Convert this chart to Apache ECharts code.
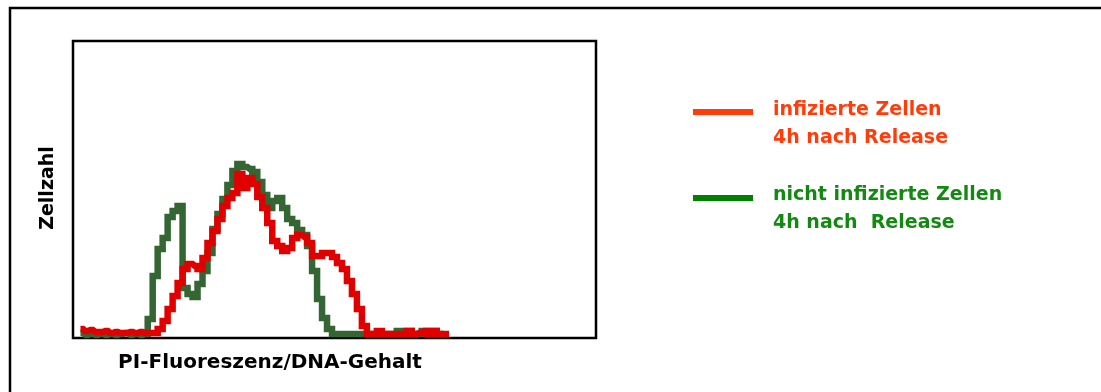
<!DOCTYPE html>
<html>
<head>
<meta charset="utf-8">
<style>
html,body{margin:0;padding:0;background:#fff;}
#chart{width:1101px;height:392px;}
</style>
<script src="https://cdn.jsdelivr.net/npm/echarts@6/dist/echarts.min.js"></script>
</head>
<body>
<div id="chart"></div>
<script>
// channel (bin) index along the PI-fluorescence axis
var bins = [];
for (var b = 1; b <= 75; b++) bins.push(b);

// cell counts per channel, infected cells 4h after release (red)
var redCounts = [9,7,8,6,6,7,5,6,5,5,6,5,6,5,5,5,9,17,29,42,55,69,74,72,69,80,95,107,119,132,140,145,164,150,160,154,141,130,115,97,92,87,90,100,103,101,95,82,82,85,85,81,75,69,57,44,29,12,4,4,7,4,4,4,4,4,7,4,5,7,4,7,4,4,4];

// cell counts per channel, non-infected cells 4h after release (green)
var greenCounts = [5,3,4,3,4,3,4,3,4,5,3,4,3,4,19,62,89,100,121,127,132,50,44,41,54,67,85,109,124,139,153,167,174,171,169,166,156,143,130,137,140,130,119,115,108,103,92,67,39,20,9,4,4,4,4,4,4,4,4,4,4,4,4,4,7,4,7,4,4,7,4,7,4,4];

var seriesNames = ['infizierte Zellen\n4h nach Release', 'nicht infizierte Zellen\n4h nach  Release'];
var xTitle = 'PI-Fluoreszenz/DNA-Gehalt';
var yTitle = 'Zellzahl';

function pairs(vals) {
  return vals.map(function (v, i) { return [bins[i], v]; });
}

var FONT = '"DejaVu Sans", sans-serif';
var RED = '#ff3c0a';
var GREEN = '#128a12';

var chart = echarts.init(document.getElementById('chart'), null, {renderer: 'canvas'});
chart.setOption({
  animation: false,
  backgroundColor: '#fff',
  grid: {left: 73, top: 41, right: 505, bottom: 54, show: true, borderColor: '#000', borderWidth: 2.5, backgroundColor: 'transparent'},
  xAxis: {
    type: 'value', min: -0.5, max: 104.5,
    axisLine: {show: false}, axisTick: {show: false}, axisLabel: {show: false}, splitLine: {show: false},
    name: xTitle, nameLocation: 'middle', nameGap: 15,
    nameTextStyle: {fontFamily: FONT, fontWeight: 'bold', fontSize: 20, color: '#000', padding: [0, 129, 0, 0]}
  },
  yAxis: {
    type: 'value', min: 0, max: 297,
    axisLine: {show: false}, axisTick: {show: false}, axisLabel: {show: false}, splitLine: {show: false},
    name: yTitle, nameLocation: 'middle', nameGap: 15,
    nameTextStyle: {fontFamily: FONT, fontWeight: 'bold', fontSize: 19, color: '#000', padding: [0, 0, 0, 3]}
  },
  series: [
    {
      name: seriesNames[1], type: 'line', step: 'middle', data: pairs(greenCounts),
      showSymbol: false, symbol: 'none', z: 2,
      lineStyle: {color: '#336633', width: 6.5, cap: 'butt', join: 'miter'}
    },
    {
      name: seriesNames[0], type: 'line', step: 'middle', data: pairs(redCounts),
      showSymbol: false, symbol: 'none', z: 3,
      lineStyle: {color: '#e00000', width: 6.5, cap: 'butt', join: 'miter'}
    }
  ],
  graphic: [
    {type: 'polyline', shape: {points: [[10, 392], [10, 8], [1101, 8]]}, style: {stroke: '#000', lineWidth: 2.5, fill: null}},
    {type: 'rect', shape: {x: 693, y: 109, width: 60, height: 6}, style: {fill: RED}},
    {type: 'text', x: 773, y: 96, style: {text: seriesNames[0], fill: RED, font: 'bold 19px ' + FONT, lineHeight: 28, verticalAlign: 'top'}},
    {type: 'rect', shape: {x: 693, y: 195, width: 60, height: 6}, style: {fill: '#008000'}},
    {type: 'text', x: 773, y: 181, style: {text: seriesNames[1], fill: GREEN, font: 'bold 19px ' + FONT, lineHeight: 28, verticalAlign: 'top'}}
  ]
});
</script>
</body>
</html>
